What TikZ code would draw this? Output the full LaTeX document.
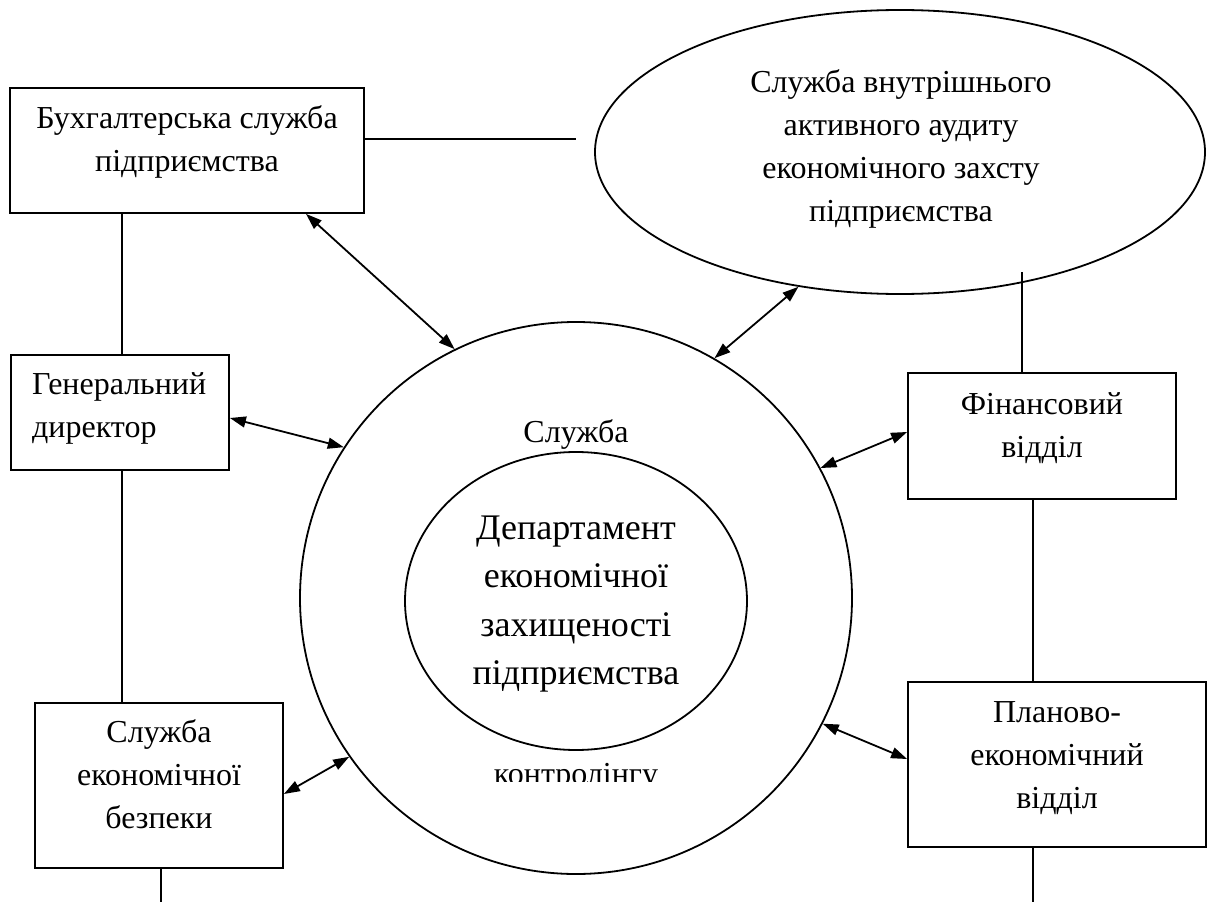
\documentclass[tikz,border=0pt]{standalone}
\usepackage{fontspec}
\setmainfont{Liberation Serif}
\usetikzlibrary{arrows.meta,shapes.geometric}
\begin{document}
\begin{tikzpicture}[x=1pt,y=-1pt,
  shp/.style={draw, line width=1.8pt, inner sep=0pt},
  boxshape/.style={shp, rectangle},
  txt/.style={font=\fontsize{32}{43}\selectfont, align=center, inner sep=0pt, anchor=north},
  bigtxt/.style={font=\fontsize{36}{48.5}\selectfont, align=center, inner sep=0pt, anchor=north},
  link/.style={line width=1.8pt},
  biarrow/.style={line width=1.8pt, {Triangle[length=16pt,width=11pt]}-{Triangle[length=16pt,width=11pt]}}]
\useasboundingbox (0,0) rectangle (1208,902);

% shapes
\node[boxshape, minimum width=354pt, minimum height=125pt] (bux) at (187,150.5) {};
\node[boxshape, minimum width=218pt, minimum height=115pt] (gen) at (120,412.5) {};
\node[boxshape, minimum width=248pt, minimum height=165pt] (slu) at (159,785.5) {};
\node[boxshape, minimum width=268pt, minimum height=126pt] (fin) at (1042,436) {};
\node[boxshape, minimum width=298pt, minimum height=165pt] (plan) at (1057,764.5) {};
\node[shp, ellipse, minimum width=610pt, minimum height=284pt] (ell) at (900,152) {};
\node[shp, circle, minimum size=552pt] (circ) at (576,598) {};
\node[shp, ellipse, minimum width=342pt, minimum height=298pt] (inner) at (576,601) {};

% texts
\node[txt] (buxt) at (187,97.9) {\strut Бухгалтерська служба\\підприємства};
\node[txt] (ellt) at (901,61.9) {\strut Служба внутрішнього\\активного аудиту\\економічного захсту\\підприємства};
\node[txt, anchor=north west, align=left] (gent) at (32,363.9) {\strut Генеральний\\директор};
\node[txt] (slut) at (159,711.9) {\strut Служба\\економічної\\безпеки};
\node[txt] (fint) at (1042,383.9) {\strut Фінансовий\\відділ};
\node[txt] (plant) at (1057,691.9) {\strut Планово-\\економічний\\відділ};
\node[txt, anchor=base] (circt) at (576,442) {Служба};
\node[bigtxt] (innert) at (576,505) {\strut Департамент\\економічної\\захищеності\\підприємства};
\begin{scope}
  \clip (420,740) rectangle (740,781);
  \node[txt, anchor=base] (kontr) at (576,784) {контролінгу};
\end{scope}

% free ends
\coordinate (bxend) at (576,139);
\coordinate (ellfoot) at (1022,272);
\coordinate (sluend) at (161,902);
\coordinate (planend) at (1033,902);

% plain links
\draw[link] ([yshift=11.5pt]bux.east) -- (bxend);
\draw[link] ([xshift=-65pt]bux.south) -- ([xshift=2pt]gen.north);
\draw[link] ([xshift=2pt]gen.south) -- ([xshift=-37pt]slu.north);
\draw[link] ([xshift=2pt]slu.south) -- (sluend);
\draw[link] (ellfoot) -- ([xshift=-20pt]fin.north);
\draw[link] ([xshift=-9pt]fin.south) -- ([xshift=-24pt]plan.north);
\draw[link] ([xshift=-24pt]plan.south) -- (planend);

% arrows
\draw[biarrow] ([xshift=119pt]bux.south) -- (circ.116.8);
\draw[biarrow] (circ.60.9) -- (ell.233.9);
\draw[biarrow] ([yshift=-5.5pt]gen.east) -- (circ.147.2);
\draw[biarrow] (circ.28.3) -- ([yshift=4pt]fin.west);
\draw[biarrow] ([yshift=-8.5pt]slu.east) -- (circ.215.9);
\draw[biarrow] (circ.333.1) -- ([yshift=5.5pt]plan.west);
\end{tikzpicture}
\end{document}
